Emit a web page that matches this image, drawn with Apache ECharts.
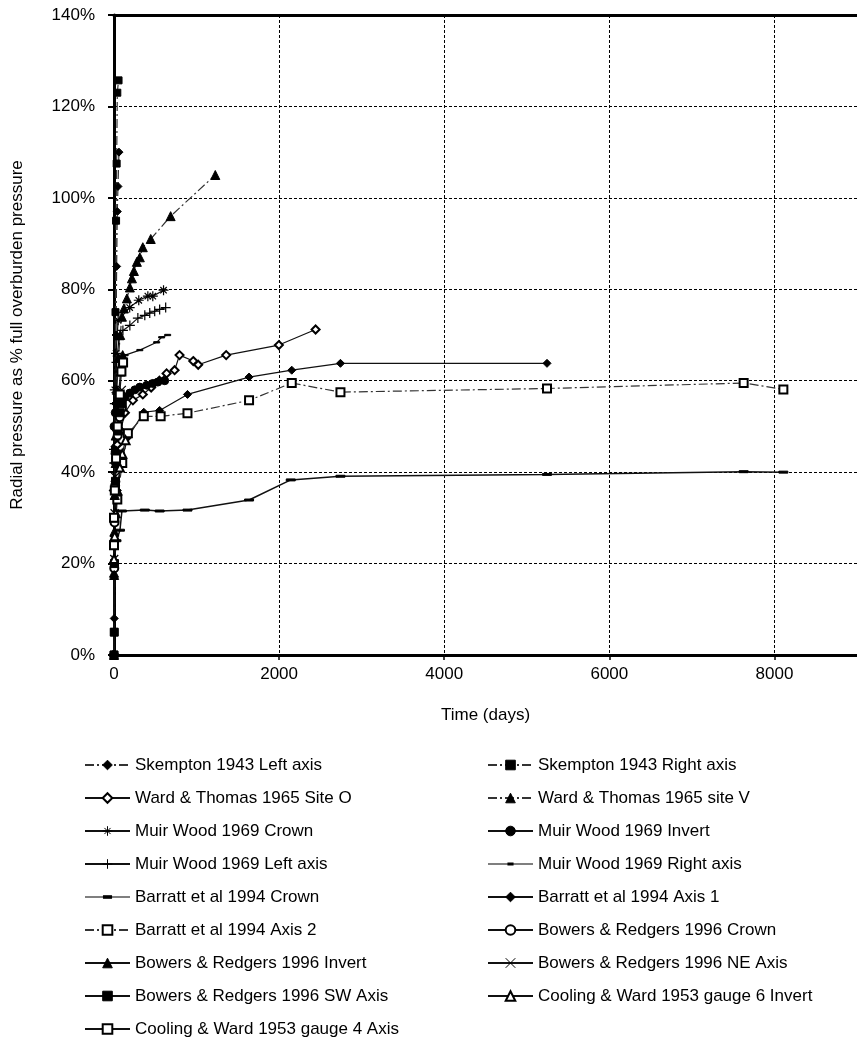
<!DOCTYPE html>
<html>
<head>
<meta charset="utf-8">
<script src="https://cdn.jsdelivr.net/npm/echarts@6/dist/echarts.min.js"></script>
<style>
  html, body { margin: 0; padding: 0; background: #fff; }
  #chart { width: 857px; height: 1038px; }
</style>
</head>
<body>
<div id="chart"></div>
<script>
// Radial pressure (% of full overburden) against time in days, one [days, pct] pair per reading
const skemptonLeft = [[0,0],[3,8],[7,20],[12,38],[18,55],[25,70],[32,85],[40,97],[48,102.5],[60,110]];
const skemptonRight = [[0,0],[4,5],[8,20],[12,45],[18,75],[25,95],[32,107.5],[40,123],[55,125.7]];
const wardSiteO = [[0,36],[15,42],[40,46],[80,49],[132,53],[229,55.7],[349,57],[450,58.5],[550,60],[637,61.6],[734,62.3],[794,65.6],[960,64.3],[1020,63.5],[1359,65.6],[1997,67.8],[2442,71.2]];
const wardSiteV = [[0,18],[10,35],[20,48],[35,58],[55,65],[75,70],[96,74],[120,75.8],[156,78],[192,80.4],[217,82.4],[241,84],[277,86],[313,87],[349,89.2],[445,91],[686,96],[1227,105]];
const muirCrown = [[0,45],[10,58],[25,66],[50,73.2],[190,76],[300,77.6],[410,78.5],[470,78.5],[600,79.8]];
const muirInvert = [[0,50],[15,53],[50,55],[132,56.4],[192,57.3],[253,58],[313,58.6],[397,59],[470,59.4],[530,59.7],[614,60]];
const muirLeft = [[0,42],[10,55],[30,64],[60,69],[108,71],[192,72.1],[289,73.7],[373,74.3],[433,74.8],[493,75.2],[553,75.6],[626,76]];
const muirRight = [[0,44],[15,55],[40,62],[80,65],[135,65.6],[313,66.7],[517,68.4],[577,69.5],[650,70]];
const barrattCrown = [[0,20],[30,25],[72,27.3],[96,31.5],[373,31.7],[553,31.5],[890,31.7],[1636,33.9],[2141,38.3],[2743,39.1],[5245,39.5],[7627,40.1],[8108,40]];
const barrattAxis1 = [[0,26],[40,36],[100,43],[168,47.6],[361,53.1],[553,53.5],[890,57],[1636,60.8],[2153,62.3],[2743,63.8],[5245,63.8]];
const barrattAxis2 = [[0,24],[40,34],[100,42],[168,48.5],[361,52.2],[565,52.2],[890,52.9],[1636,55.7],[2153,59.5],[2743,57.5],[5245,58.3],[7627,59.5],[8108,58.1]];
const bowersCrown = [[0,0],[3,19],[7,29],[14,37],[25,43],[45,48],[70,52],[95,54]];
const bowersInvert = [[0,0],[2,17.5],[5,27],[10,35],[20,42],[35,50],[55,57],[80,62],[105,65.6]];
const bowersNE = [[0,0],[3,21],[7,31],[14,39],[25,45],[45,50],[70,55],[95,58]];
const bowersSW = [[0,0],[3,5],[6,20],[10,30],[18,38],[30,44],[50,49],[75,53],[100,55]];
const coolingGauge6 = [[0,21],[8,26],[20,31],[40,36],[70,41],[100,44],[140,47]];
const coolingGauge4 = [[0,30],[10,36],[25,43],[45,50],[70,57],[90,62],[110,64]];

const seriesNames = [
  'Skempton 1943 Left axis', 'Skempton 1943 Right axis',
  'Ward & Thomas 1965 Site O', 'Ward & Thomas 1965 site V',
  'Muir Wood 1969 Crown', 'Muir Wood 1969 Invert',
  'Muir Wood 1969 Left axis', 'Muir Wood 1969 Right axis',
  'Barratt et al 1994 Crown', 'Barratt et al 1994 Axis 1',
  'Barratt et al 1994 Axis 2', 'Bowers & Redgers 1996 Crown',
  'Bowers & Redgers 1996 Invert', 'Bowers & Redgers 1996 NE Axis',
  'Bowers & Redgers 1996 SW Axis', 'Cooling & Ward 1953 gauge 6 Invert',
  'Cooling & Ward 1953 gauge 4 Axis'
];
const seriesData = [
  skemptonLeft, skemptonRight, wardSiteO, wardSiteV, muirCrown, muirInvert,
  muirLeft, muirRight, barrattCrown, barrattAxis1, barrattAxis2, bowersCrown,
  bowersInvert, bowersNE, bowersSW, coolingGauge6, coolingGauge4
];
const xTicks = { min: 0, max: 9000, step: 2000 };
const yTicks = { min: 0, max: 140, step: 20 };

// Marker shapes
const ASTERISK = 'path://M5,0L5,10M0,5L10,5M1.8,1.8L8.2,8.2M8.2,1.8L1.8,8.2';
const PLUS = 'path://M5,0L5,10M0,5L10,5';
const CROSS = 'path://M0,0L10,10M10,0L0,10';
const DASH = 'path://M0,0L10,0L10,2.2L0,2.2Z';
const DASHDOT = [9, 3, 2, 3];
// Legend icons for the dash-marker series: a line with a short bar in its middle
const LEGEND_DASH_SMALL = 'path://M0,1L45,1M20,0L25,0L25,2L20,2Z';
const LEGEND_DASH_WIDE = 'path://M0,1.2L45,1.2M18.5,0L26.5,0L26.5,2.4L18.5,2.4Z';

const styles = [
  { symbol: 'diamond', size: 8, dash: DASHDOT },
  { symbol: 'rect', size: 7, dash: DASHDOT },
  { symbol: 'emptyDiamond', size: 8 },
  { symbol: 'triangle', size: 9, dash: DASHDOT },
  { symbol: ASTERISK, size: 10, stroke: true },
  { symbol: 'circle', size: 8 },
  { symbol: PLUS, size: 10, stroke: true },
  { symbol: DASH, size: 6, legendIcon: LEGEND_DASH_SMALL },
  { symbol: DASH, size: 9, width: 1.5, legendIcon: LEGEND_DASH_WIDE },
  { symbol: 'diamond', size: 8 },
  { symbol: 'emptyRect', size: 8, dash: DASHDOT },
  { symbol: 'emptyCircle', size: 8 },
  { symbol: 'triangle', size: 9 },
  { symbol: CROSS, size: 8, stroke: true },
  { symbol: 'rect', size: 8 },
  { symbol: 'emptyTriangle', size: 8 },
  { symbol: 'emptyRect', size: 8 }
];

const series = seriesNames.map((name, i) => {
  const st = styles[i];
  return {
    name: name,
    type: 'line',
    data: seriesData[i],
    symbol: st.symbol,
    symbolSize: st.size,
    symbolKeepAspect: true,
    showAllSymbol: true,
    z: 3,
    lineStyle: {
      color: st.dash ? '#333' : '#111',
      width: st.width || 1.2,
      type: st.dash || 'solid'
    },
    itemStyle: st.stroke
      ? { color: '#000', borderColor: '#000', borderWidth: 1.2 }
      : { color: '#000', borderColor: '#000', borderWidth: 1 }
  };
});

function legendItems(parity) {
  return seriesNames
    .map((name, i) => ({ name, i }))
    .filter(o => o.i % 2 === parity)
    .map(o => styles[o.i].legendIcon
      ? { name: o.name, icon: styles[o.i].legendIcon, itemStyle: { color: '#000', borderColor: '#000', borderWidth: 1.1 } }
      : { name: o.name });
}

const FONT = 'Liberation Sans, Arial, sans-serif';
const legendBase = {
  orient: 'vertical',
  top: 750,
  height: 300,
  itemWidth: 45,
  itemHeight: 12,
  itemGap: 13,
  symbolKeepAspect: true,
  textStyle: { fontFamily: FONT, fontSize: 17, color: '#000', lineHeight: 20 },
  itemStyle: { borderWidth: 1 },
  selectedMode: false,
  inactiveColor: '#000'
};

const chart = echarts.init(document.getElementById('chart'), null, { renderer: 'canvas' });
chart.setOption({
  animation: false,
  backgroundColor: '#fff',
  grid: { left: 114, right: -5, top: 15, bottom: 383, containLabel: false },
  legend: [
    Object.assign({}, legendBase, { left: 79, data: legendItems(0) }),
    Object.assign({}, legendBase, { left: 482, data: legendItems(1) })
  ],
  xAxis: [{
    type: 'value',
    min: xTicks.min, max: xTicks.max, interval: xTicks.step,
    name: 'Time (days)',
    nameLocation: 'middle',
    nameGap: 52,
    nameTextStyle: { fontFamily: FONT, fontSize: 17, color: '#000' },
    axisLine: { onZero: false, lineStyle: { color: '#000', width: 3 } },
    axisTick: { show: true, length: 5, lineStyle: { color: '#000', width: 1.5 } },
    axisLabel: { showMaxLabel: false, margin: 11, formatter: v => String(v), fontFamily: FONT, fontSize: 17, color: '#000' },
    splitLine: { show: true, lineStyle: { color: '#000', width: 1, type: [3, 2] } }
  }, {
    type: 'value', position: 'top',
    min: xTicks.min, max: xTicks.max, interval: xTicks.step,
    axisLine: { onZero: false, lineStyle: { color: '#000', width: 3 } },
    axisTick: { show: false }, axisLabel: { show: false }, splitLine: { show: false }
  }],
  yAxis: {
    type: 'value',
    min: yTicks.min, max: yTicks.max, interval: yTicks.step,
    name: 'Radial pressure as % full overburden pressure',
    nameLocation: 'middle',
    nameRotate: 90,
    nameGap: 88,
    nameTextStyle: { fontFamily: FONT, fontSize: 17, color: '#000' },
    axisLine: { show: true, onZero: false, lineStyle: { color: '#000', width: 3 } },
    axisTick: { show: true, length: 6, lineStyle: { color: '#000', width: 2 } },
    axisLabel: { formatter: '{value}%', margin: 19, fontFamily: FONT, fontSize: 17, color: '#000' },
    splitLine: { show: true, lineStyle: { color: '#000', width: 1, type: [3, 2] } }
  },
  series: series
});
</script>
</body>
</html>
